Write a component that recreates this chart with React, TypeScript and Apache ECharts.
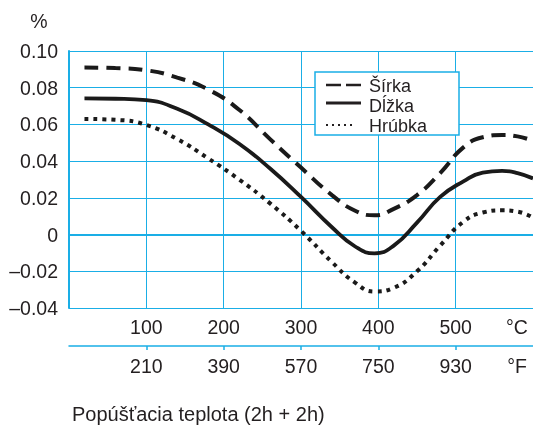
import React, { useEffect, useRef } from "react";
import * as echarts from "echarts";

const temps = [20, 60, 100, 140, 180, 220, 260, 300, 340, 370, 395, 420, 450, 480, 510, 535, 560, 580, 600];
const sirka = [0.091, 0.0907, 0.0895, 0.0855, 0.079, 0.068, 0.052, 0.0365, 0.0215, 0.013, 0.0105, 0.014, 0.0215, 0.0335, 0.0475, 0.053, 0.0542, 0.0535, 0.051];
const dlzka = [0.0742, 0.074, 0.0732, 0.0685, 0.06, 0.0495, 0.036, 0.0205, 0.004, -0.0065, -0.0102, -0.006, 0.0065, 0.0205, 0.029, 0.0338, 0.0347, 0.0335, 0.0306];
const hrubka = [0.063, 0.0625, 0.0597, 0.052, 0.0415, 0.03, 0.017, 0.002, -0.015, -0.0262, -0.031, -0.029, -0.02, -0.006, 0.007, 0.012, 0.0132, 0.0125, 0.0092];

const cTicks = [100, 200, 300, 400, 500];
const fLabels = ["210", "390", "570", "750", "930"];
const seriesNames = ["Šírka", "Dĺžka", "Hrúbka"];

const BLUE = "#1aaee6";
const INK = "#231f20";
const FONT = "Liberation Sans, Arial, sans-serif";
const FS = 19.5;

export default function App() {
  const ref = useRef<HTMLDivElement>(null);
  useEffect(() => {
    if (!ref.current) return;
    const chart = echarts.init(ref.current, undefined, { renderer: "svg" });
    const pts = (vals: number[]) => temps.map((t, i) => [t, vals[i]]);
    const textStyle = { fontSize: FS, fontFamily: FONT, fill: INK };
    const legendText = { fontSize: 18, fontFamily: FONT, fill: INK, lineHeight: 18, verticalAlign: "middle" };
    chart.setOption({
      animation: false,
      grid: { left: 69, right: 0, top: 51, bottom: 117, containLabel: false },
      xAxis: [
        {
          type: "value",
          min: 0,
          max: 600,
          interval: 100,
          position: "bottom",
          axisLine: { show: true, lineStyle: { color: BLUE, width: 2 } },
          axisTick: { show: false },
          splitLine: { show: true, lineStyle: { color: BLUE, width: 1 } },
          axisLabel: {
            show: true,
            margin: 9,
            fontSize: FS,
            fontFamily: FONT,
            color: INK,
            customValues: cTicks,
            formatter: (v: number) => (cTicks.indexOf(v) >= 0 ? String(v) : ""),
          },
        },
        {
          type: "value",
          min: 0,
          max: 600,
          interval: 100,
          position: "bottom",
          offset: 38,
          axisLine: { show: true, lineStyle: { color: BLUE, width: 1.5 } },
          axisTick: { show: true, length: 4, customValues: cTicks, lineStyle: { color: BLUE, width: 1.5 } },
          splitLine: { show: false },
          axisLabel: {
            show: true,
            margin: 10,
            fontSize: FS,
            fontFamily: FONT,
            color: INK,
            customValues: cTicks,
            formatter: (v: number) => {
              const i = cTicks.indexOf(v);
              return i >= 0 ? fLabels[i] : "";
            },
          },
        },
      ],
      yAxis: {
        type: "value",
        min: -0.04,
        max: 0.1,
        interval: 0.02,
        axisLine: { show: true, lineStyle: { color: BLUE, width: 2 } },
        axisTick: { show: false },
        splitLine: { show: true, lineStyle: { color: BLUE, width: 1 } },
        axisLabel: {
          margin: 11,
          fontSize: FS,
          fontFamily: FONT,
          color: INK,
          padding: [4, 0, 0, 0],
          formatter: (v: number) => {
            if (Math.abs(v) < 1e-9) return "0";
            const s = Math.abs(v).toFixed(2);
            return v < 0 ? "\u2013" + s : s;
          },
        },
      },
      series: [
        {
          name: seriesNames[0],
          type: "line",
          xAxisIndex: 0,
          data: pts(sirka),
          smooth: true,
          showSymbol: false,
          lineStyle: { color: "#1a1a1a", width: 4, type: [14, 8], cap: "butt" },
          z: 3,
        },
        {
          name: seriesNames[1],
          type: "line",
          xAxisIndex: 0,
          data: pts(dlzka),
          smooth: true,
          showSymbol: false,
          lineStyle: { color: "#1a1a1a", width: 3.8, type: "solid" },
          z: 3,
        },
        {
          name: seriesNames[2],
          type: "line",
          xAxisIndex: 0,
          data: pts(hrubka),
          smooth: true,
          showSymbol: false,
          lineStyle: { color: "#1a1a1a", width: 4, type: [4, 5], cap: "butt" },
          z: 3,
        },
      ],
      graphic: [
        { type: "text", x: 39, y: 21, style: { text: "%", ...textStyle, align: "center", verticalAlign: "middle" } },
        { type: "text", x: 517, y: 327, style: { text: "°C", ...textStyle, align: "center", verticalAlign: "middle" } },
        { type: "text", x: 517, y: 366, style: { text: "°F", ...textStyle, align: "center", verticalAlign: "middle" } },
        { type: "text", x: 72, y: 414, style: { text: "Popúšťacia teplota (2h + 2h)", ...textStyle, fontSize: 20, verticalAlign: "middle" } },
        {
          type: "group",
          z: 10,
          children: [
            { type: "rect", z: 10, shape: { x: 315, y: 72, width: 144, height: 63 }, style: { fill: "#ffffff", stroke: BLUE, lineWidth: 1.5 } },
            { type: "line", z: 11, shape: { x1: 326, y1: 85, x2: 361, y2: 85 }, style: { stroke: INK, lineWidth: 2.5, lineDash: [15, 5] } },
            { type: "line", z: 11, shape: { x1: 326, y1: 103, x2: 361, y2: 103 }, style: { stroke: INK, lineWidth: 3 } },
            { type: "line", z: 11, shape: { x1: 326, y1: 125, x2: 354, y2: 125 }, style: { stroke: INK, lineWidth: 2, lineDash: [2, 4] } },
            { type: "text", z: 11, x: 369, y: 86, style: { text: seriesNames[0], ...legendText } },
            { type: "text", z: 11, x: 369, y: 106, style: { text: seriesNames[1], ...legendText } },
            { type: "text", z: 11, x: 369, y: 126, style: { text: seriesNames[2], ...legendText } },
          ],
        },
      ],
    });
    return () => chart.dispose();
  }, []);
  return <div ref={ref} style={{ position: "fixed", left: 0, top: 0, width: 533, height: 425 }} />;
}
